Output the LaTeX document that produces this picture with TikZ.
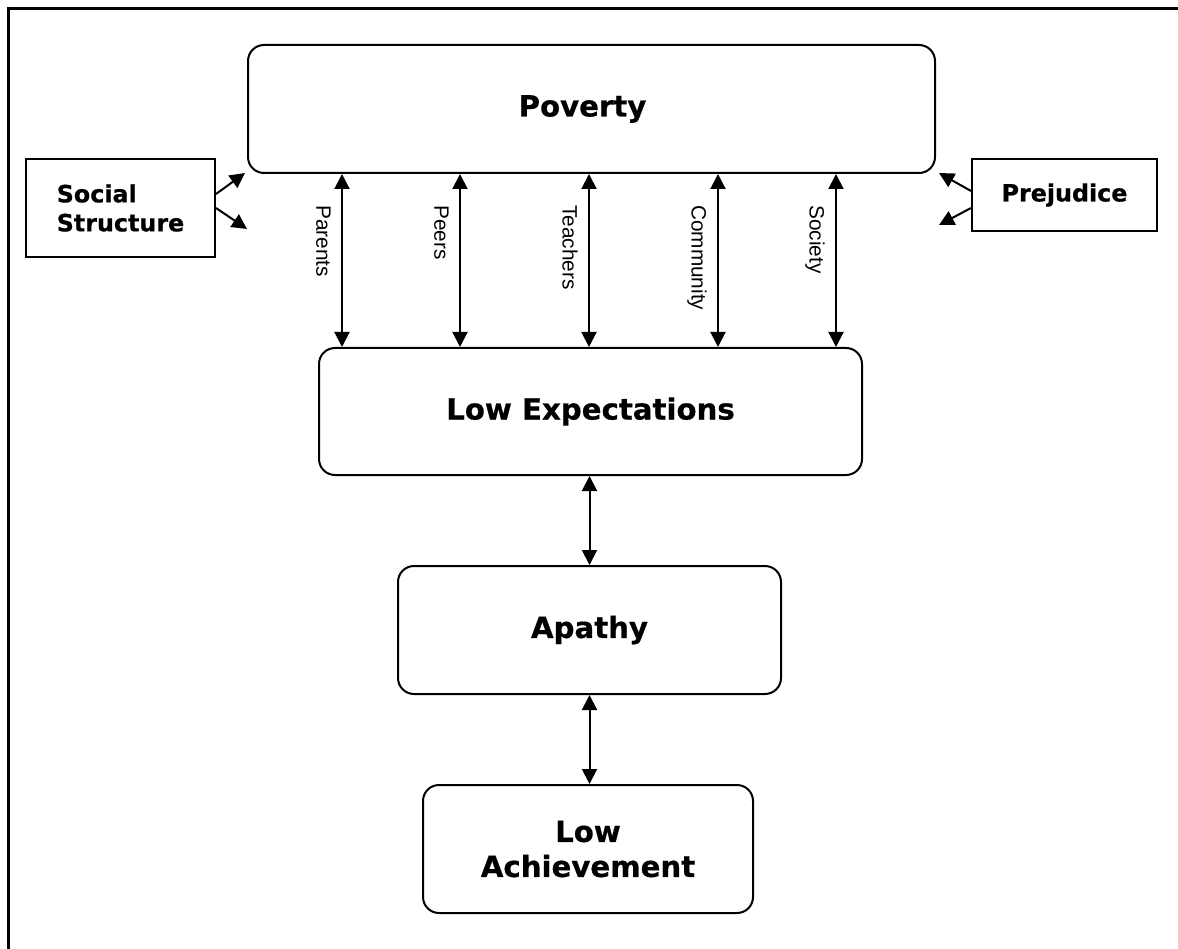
\documentclass[tikz,border=0pt]{standalone}
\usepackage{fontspec}
\setmainfont{DejaVu Sans}[BoldFeatures={FakeBold=0.6}]
\newfontfamily\lblfont{Liberation Sans}
\usetikzlibrary{arrows.meta}
\begin{document}
\begin{tikzpicture}[x=1pt,y=-1pt,
  box/.style={draw, line width=2pt, rounded corners=16pt, inner sep=0pt,
    font=\bfseries\fontsize{29.2}{35}\selectfont, align=center},
  sidebox/.style={draw, line width=2pt, inner sep=0pt,
    font=\bfseries\fontsize{23.8}{29}\selectfont},
  link/.style={line width=2pt,
    {Triangle[length=15pt,width=15pt]}-{Triangle[length=15pt,width=15pt]}},
  push/.style={line width=2pt, -{Triangle[length=15pt,width=15pt]}},
  tag/.style={rotate=-90, anchor=north west, inner sep=0pt,
    font=\lblfont\fontsize{20.8}{24}\selectfont},
  frame/.style={line width=3pt, line join=miter}]

\useasboundingbox (0,0) rectangle (1178,949);

% outer frame (top and left sides)
\draw[frame] (8.5,949) -- (8.5,8.5) -- (1178,8.5);

% main chain of boxes
\node[box, minimum width=687pt, minimum height=128pt] (pov) at (591.5,109) {Poverty\hspace*{18pt}};
\node[box, minimum width=543pt, minimum height=127pt] (lowexp) at (590.5,411.5) {Low Expectations};
\node[box, minimum width=383pt, minimum height=128pt] (apathy) at (589.5,630) {Apathy};
\node[box, minimum width=330pt, minimum height=128pt] (lowach) at (588,849) {Low\\Achievement};

% side influences
\node[sidebox, minimum width=189pt, minimum height=98pt, align=left] (social) at (120.5,208) {Social\\Structure};
\node[sidebox, minimum width=185pt, minimum height=72pt] (prej) at (1064.5,195) {Prejudice};

% free ends of the side arrows
\coordinate (socA) at (245,173);
\coordinate (socB) at (247,229);
\coordinate (preA) at (939,173);
\coordinate (preB) at (939,225);

\draw[push] ([yshift=14pt]social.east) -- (socA);
\draw[push] (social.east) -- (socB);
\draw[push] ([yshift=4pt]prej.west) -- (preA);
\draw[push] ([yshift=-13pt]prej.west) -- (preB);

% channels between Poverty and Low Expectations
\draw[link] (342,0 |- pov.south) -- (342,0 |- lowexp.north);
\draw[link] (460,0 |- pov.south) -- (460,0 |- lowexp.north);
\draw[link] (589,0 |- pov.south) -- (589,0 |- lowexp.north);
\draw[link] (718,0 |- pov.south) -- (718,0 |- lowexp.north);
\draw[link] (836,0 |- pov.south) -- (836,0 |- lowexp.north);

\node[tag] (tParents) at (331,205) {Parents};
\node[tag] (tPeers) at (449,205) {Peers};
\node[tag] (tTeachers) at (578,205) {Teachers};
\node[tag] (tCommunity) at (707,205) {Community};
\node[tag] (tSociety) at (825,205) {Society};

% lower chain
\draw[link] (lowexp.south -| apathy.north) -- (apathy.north);
\draw[link] (apathy.south) -- (apathy.south |- lowach.north);

\end{tikzpicture}
\end{document}
